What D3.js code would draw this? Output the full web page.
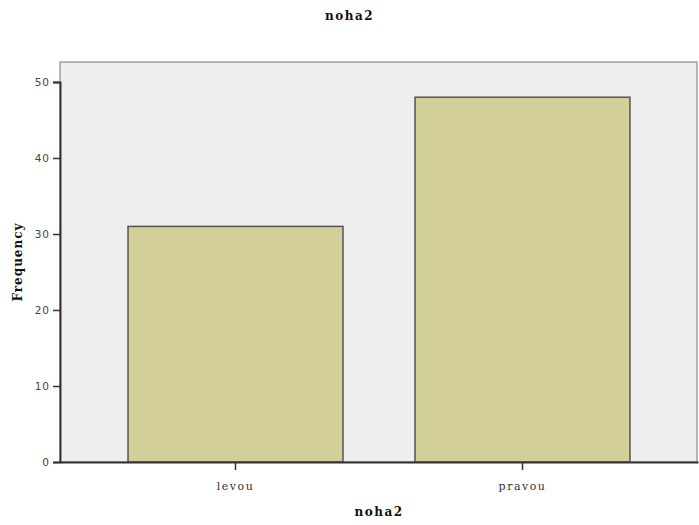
<!DOCTYPE html>
<html><head><meta charset="utf-8">
<script src="https://cdn.jsdelivr.net/npm/d3@7"></script>
<style>body{margin:0;background:#fff}</style>
</head><body>
<script>
const categories = ["levou", "pravou"];
const frequencies = [31, 48];
const yTicks = [0, 10, 20, 30, 40, 50];
const chartTitle = "noha2";
const xTitle = "noha2";
const yTitle = "Frequency";

const W = 699, H = 525;
const m = {left: 60, right: 1, top: 62, bottom: 63};
const svg = d3.select("body").append("svg").attr("width", W).attr("height", H);

const x = d3.scaleBand().domain(categories).range([m.left, W - m.right])
  .paddingInner(0.251).paddingOuter(0.237);
const y = d3.scaleLinear().domain([0, 50]).range([H - m.bottom, 82]);

// plot background
svg.append("rect").attr("x", m.left).attr("y", m.top)
  .attr("width", W - m.right - m.left - 1).attr("height", H - m.bottom - m.top)
  .attr("fill", "#efefef").attr("stroke", "#8a8a8a").attr("stroke-width", 1.2);

// bars
svg.selectAll("rect.bar").data(categories).enter().append("rect")
  .attr("class", "bar")
  .attr("x", d => x(d)).attr("width", x.bandwidth())
  .attr("y", (d, i) => y(frequencies[i]))
  .attr("height", (d, i) => y(0) - y(frequencies[i]))
  .attr("fill", "#d3cf98").attr("stroke", "#555").attr("stroke-width", 1.5);

// y axis
const ya = svg.append("g").attr("transform", `translate(${m.left},0)`)
  .call(d3.axisLeft(y).tickValues(yTicks).tickSize(7).tickPadding(3));
ya.select(".domain").attr("stroke", "#333").attr("stroke-width", 2);
ya.selectAll(".tick line").attr("stroke", "#333").attr("stroke-width", 1.5);
ya.selectAll("text").attr("font-family", "DejaVu Sans").attr("font-size", 10.5)
  .attr("fill", "#444").style("letter-spacing", "1px");

// x axis
const xa = svg.append("g").attr("transform", `translate(0,${y(0)})`)
  .call(d3.axisBottom(x).tickSize(8).tickPadding(12).tickSizeOuter(0));
xa.select(".domain").attr("stroke", "#333").attr("stroke-width", 2);
xa.selectAll(".tick line").attr("stroke", "#333").attr("stroke-width", 1.5);
xa.selectAll("text").attr("font-family", "DejaVu Serif").attr("font-size", 11)
  .style("letter-spacing", "1.5px").attr("fill", "#333");

// titles
svg.append("text").attr("x", W / 2).attr("y", 20).attr("text-anchor", "middle")
  .attr("font-family", "DejaVu Serif").attr("font-weight", "bold").attr("font-size", 12)
  .style("letter-spacing", "1.5px").attr("fill", "#111").text(chartTitle);
svg.append("text").attr("x", (m.left + W - m.right) / 2).attr("y", 516).attr("text-anchor", "middle")
  .attr("font-family", "DejaVu Serif").attr("font-weight", "bold").attr("font-size", 12)
  .style("letter-spacing", "1.5px").attr("fill", "#111").text(xTitle);
svg.append("text").attr("transform", `translate(22,${(m.top + H - m.bottom) / 2}) rotate(-90)`)
  .attr("text-anchor", "middle")
  .attr("font-family", "DejaVu Serif").attr("font-weight", "bold").attr("font-size", 12)
  .style("letter-spacing", "1px").attr("fill", "#111").text(yTitle);
</script>
</body></html>
